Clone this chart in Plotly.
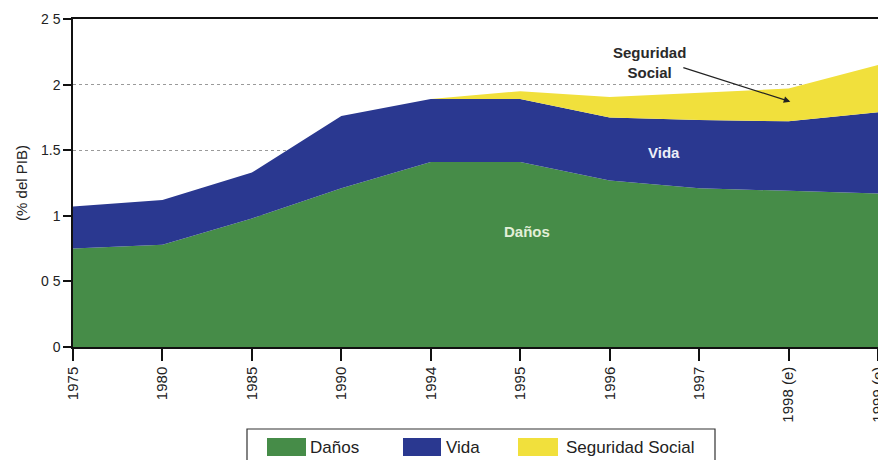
import plotly.graph_objects as go

# ---- data ----
years = ["1975", "1980", "1985", "1990", "1994", "1995", "1996", "1997", "1998 (e)", "1999 (e)"]
danos = [0.75, 0.78, 0.98, 1.21, 1.41, 1.41, 1.27, 1.21, 1.19, 1.17]
vida = [0.32, 0.34, 0.35, 0.55, 0.48, 0.48, 0.48, 0.52, 0.53, 0.62]
seguridad = [0.0, 0.0, 0.0, 0.0, 0.0, 0.06, 0.155, 0.21, 0.25, 0.36]

y_tickvals = [0, 0.5, 1, 1.5, 2, 2.5]
y_ticktext = ["0", "0 5", "1", "1.5", "2", "2 5"]

series_names = ["Daños", "Vida", "Seguridad Social"]
colors = ["#468c48", "#2a3890", "#f1e03c"]

# ---- figure ----
W, H = 878, 460
ML, MR, MT, MB = 73, 0, 19, 113
PW, PH = W - ML - MR, H - MT - MB

fig = go.Figure()
for name, vals, col in zip(series_names, [danos, vida, seguridad], colors):
    fig.add_trace(go.Scatter(
        x=years, y=vals, name=name, mode="lines",
        stackgroup="one", line=dict(width=0, color=col),
        fillcolor=col, showlegend=False, hoverinfo="x+y+name",
    ))

font_main = "Arial, 'Liberation Sans', sans-serif"

fig.update_layout(
    width=W, height=H,
    margin=dict(l=ML, r=MR, t=MT, b=MB, autoexpand=False),
    paper_bgcolor="white", plot_bgcolor="white",
    showlegend=False,
    font=dict(family=font_main, color="#222"),
    xaxis=dict(
        type="category", range=[0, len(years) - 1],
        showline=True, linecolor="#111", linewidth=1.5, mirror=True,
        ticks="outside", ticklen=12, tickwidth=1.5, tickcolor="#111",
        tickangle=-90, tickfont=dict(size=15, color="#222"),
        showgrid=False, zeroline=False,
    ),
    yaxis=dict(
        range=[0, 2.5], tickvals=y_tickvals, ticktext=y_ticktext,
        showline=True, linecolor="#111", linewidth=1.5,
        ticks="outside", ticklen=8, tickwidth=1.5, tickcolor="#111",
        tickfont=dict(size=14, color="#222"),
        showgrid=True, gridcolor="#9a9a9a", griddash="dot", gridwidth=1,
        zeroline=False,
        title=dict(text="(% del PIB)", font=dict(size=15, color="#222"), standoff=10),
    ),
)


def px2paper(px, py):
    return (px - ML) / PW, (MT + PH - py) / PH


# in-chart labels
fig.add_annotation(x=5.08, y=0.884, xref="x", yref="y", text="<b>Daños</b>",
                   showarrow=False, font=dict(size=15, color="#e2efd8", family=font_main))
fig.add_annotation(x=6.61, y=1.48, xref="x", yref="y", text="<b>Vida</b>",
                   showarrow=False, font=dict(size=15, color="#eceef8", family=font_main))
fig.add_annotation(x=6.45, y=2.17, xref="x", yref="y", text="<b>Seguridad<br>Social</b>",
                   showarrow=False, font=dict(size=15, color="#2a2a2a", family=font_main))
fig.add_annotation(x=8.02, y=1.87, xref="x", yref="y", text=" ",
                   showarrow=True, axref="pixel", ayref="pixel", ax=-110, ay=-35,
                   arrowhead=2, arrowsize=1.1, arrowwidth=1.2, arrowcolor="#222")

# manual legend (box, swatches, labels)
bx0, by0 = px2paper(247, 429)
bx1, by1 = px2paper(715, 468)
fig.add_shape(type="rect", xref="paper", yref="paper", x0=bx0, y0=by0, x1=bx1, y1=by1,
              line=dict(color="#333", width=1.2), fillcolor="white", layer="above")
legend_items = [(267, 306, 308), (403, 441, 444), (518, 558, 564)]
for (sx0, sx1, tx), name, col in zip(legend_items, series_names, colors):
    a0, b0 = px2paper(sx0, 438)
    a1, b1 = px2paper(sx1, 456)
    fig.add_shape(type="rect", xref="paper", yref="paper", x0=a0, y0=b0, x1=a1, y1=b1,
                  line=dict(width=0), fillcolor=col, layer="above")
    tx_p, ty_p = px2paper(tx, 447)
    fig.add_annotation(x=tx_p, y=ty_p, xref="paper", yref="paper", text=name,
                       xanchor="left", yanchor="middle", showarrow=False,
                       font=dict(size=17, color="#222", family=font_main))

fig.write_html(
    "out.html",
    config={"displayModeBar": False},
    post_script="document.body.style.margin='0';document.body.style.overflow='hidden';",
)
